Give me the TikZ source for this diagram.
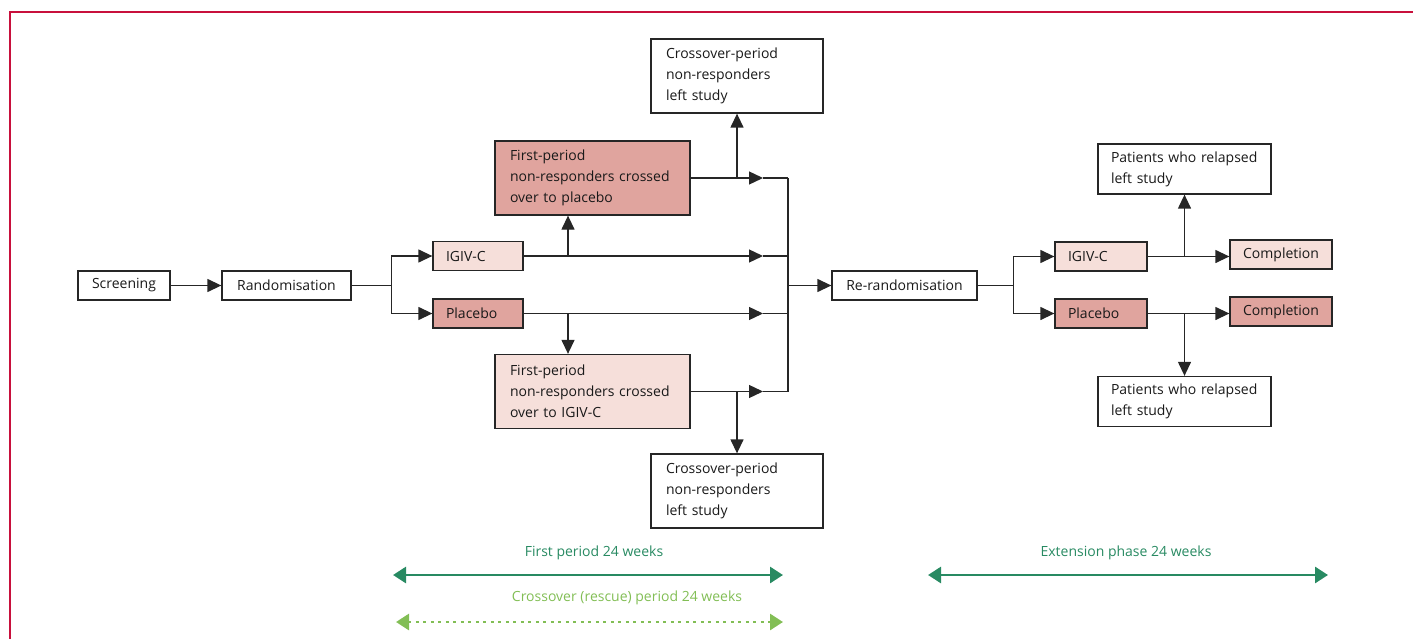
\documentclass[tikz,border=0pt]{standalone}
\usepackage{fontspec}
\setmainfont{Open Sans}
\usetikzlibrary{arrows.meta}
\definecolor{pinkL}{RGB}{246,223,218}
\definecolor{pinkD}{RGB}{224,164,158}
\definecolor{grnD}{RGB}{40,138,98}
\definecolor{grnL}{RGB}{130,190,85}
\definecolor{frameRed}{RGB}{200,16,60}
\begin{document}
\begin{tikzpicture}[x=1pt,y=-1pt]
    \tikzstyle{every node}=[font=\fontsize{14}{21}\selectfont,text=black!90]
    \tikzstyle{box}=[draw=black!85,line width=1.3pt,minimum height=29pt,inner ysep=0pt,inner xsep=0pt]
    \tikzstyle{lbox}=[box,inner xsep=13pt,align=left]
    \tikzstyle{tall}=[box,inner xsep=15pt,align=left,minimum height=74pt]
    \tikzstyle{arr}=[line width=1.3pt,draw=black!85,-{Triangle[length=14pt,width=13pt]}]
    \tikzstyle{ln}=[line width=1.3pt,draw=black!85]
    \tikzstyle{span}=[line width=2.8pt,{Triangle[length=13pt,width=16pt]}-{Triangle[length=13pt,width=16pt]}]
    \useasboundingbox (0,0) rectangle (1413,639);
    \draw[frameRed,line width=1.8pt] (10,639) -- (10,12) -- (1413,12);
    % first period
    \draw (124,285.5) node[box,minimum width=92pt] (scr) {Screening};
    \draw (286.5,285.5) node[box,minimum width=129pt] (rnd) {Randomisation};
    \draw (478,256) node[lbox,fill=pinkL,text width=64pt] (igA) {IGIV-C};
    \draw (478,313.5) node[lbox,fill=pinkD,text width=64pt] (plA) {Placebo};
    \draw (592.5,178) node[tall,fill=pinkD,text width=165pt] (fpP) {First-period\\non-responders crossed\\over to placebo};
    \draw (592.5,391.5) node[tall,fill=pinkL,text width=165pt] (fpI) {First-period\\non-responders crossed\\over to IGIV-C};
    \draw (737,76) node[tall,text width=142pt] (coT) {Crossover-period\\non-responders\\left study};
    \draw (737,491) node[tall,text width=142pt] (coB) {Crossover-period\\non-responders\\left study};
    \coordinate (up) at (568,0);
    \coordinate (hd) at (763,0);
    \coordinate (bus) at (788,0);
    \draw[arr] (scr) -- (rnd);
    \draw[arr] (rnd.east) -- ++(40,0) |- (igA.west);
    \draw[arr] (rnd.east) -- ++(40,0) |- (plA.west);
    \draw[arr] (up |- igA.east) -- (up |- fpP.south);
    \draw[arr] (up |- plA.east) -- (up |- fpI.north);
    \draw[arr] (coT.south |- fpP.east) -- (coT.south);
    \draw[arr] (coB.north |- fpI.east) -- (coB.north);
    \foreach \n in {fpP,igA,plA,fpI} {
        \draw[arr] (\n.east) -- (\n.east -| hd);
        \draw[ln] (\n.east -| hd) -- (\n.east -| bus);
    }
    \draw[ln] (fpP.east -| bus) -- (fpI.east -| bus);
    % extension phase
    \draw (904.5,285.5) node[box,minimum width=145pt] (rer) {Re-randomisation};
    \draw (1101,256.5) node[lbox,fill=pinkL,text width=66pt] (igB) {IGIV-C};
    \draw (1101,313.5) node[lbox,fill=pinkD,text width=66pt] (plB) {Placebo};
    \draw (1281,254.5) node[box,fill=pinkL,minimum width=102pt] (cmA) {Completion};
    \draw (1281,311.5) node[box,fill=pinkD,minimum width=102pt] (cmB) {Completion};
    \draw (1184.5,169) node[tall,minimum height=50pt,inner xsep=13pt,text width=147pt] (ptT) {Patients who relapsed\\left study};
    \draw (1184.5,401.5) node[tall,minimum height=50pt,inner xsep=13pt,text width=147pt] (ptB) {Patients who relapsed\\left study};
    \draw[arr] (bus |- rer.west) -- (rer.west);
    \draw[arr] (rer.east) -- ++(36,0) |- (igB.west);
    \draw[arr] (rer.east) -- ++(36,0) |- (plB.west);
    \draw[arr] (igB.east) -- (igB.east -| cmA.west);
    \draw[arr] (plB.east) -- (plB.east -| cmB.west);
    \draw[arr] (ptT.south |- igB.east) -- (ptT.south);
    \draw[arr] (ptB.north |- plB.east) -- (ptB.north);
    % periods
    \coordinate (fa) at (393,575);
    \coordinate (fb) at (783,575);
    \coordinate (ca) at (396,622);
    \coordinate (cb) at (783,622);
    \coordinate (ea) at (928,575);
    \coordinate (eb) at (1328,575);
    \draw (594,553) node[text=grnD] (fpl) {First period 24 weeks};
    \draw (627,598) node[text=grnL] (cpl) {Crossover (rescue) period 24 weeks};
    \draw (1126,553) node[text=grnD] (epl) {Extension phase 24 weeks};
    \draw[span,grnD] (fa) -- (fb);
    \draw[span,grnD] (ea) -- (eb);
    \draw[span,grnL,dash pattern=on 3pt off 4.5pt] (ca) -- (cb);
\end{tikzpicture}
\end{document}
